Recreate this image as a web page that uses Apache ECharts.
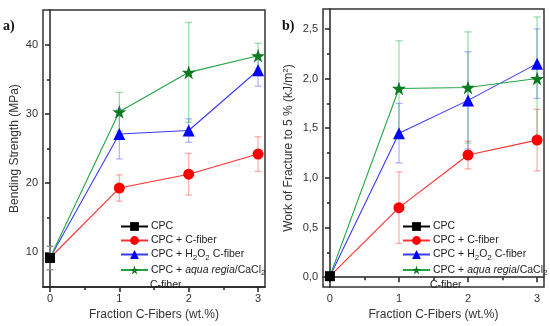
<!DOCTYPE html>
<html><head><meta charset="utf-8">
<script src="https://cdn.jsdelivr.net/npm/echarts@6/dist/echarts.min.js"></script>
<style>html,body{margin:0;padding:0;background:#fff}#c{width:550px;height:326px}</style>
</head><body><div id="c"></div>
<script>
// ---- data ----
const xValues = [0, 1, 2, 3];
const xTickLabels = [0, 1, 2, 3];
const seriesNames = ['CPC', 'CPC + C-fiber', 'CPC + H2O2 C-fiber', 'CPC + aqua regia/CaCl2 C-fiber'];

// Panel a: Bending Strength (MPa)
const aCPC = [9.2];
const aCPCErr = [1.7];
const aCF = [9.2, 19.3, 21.3, 24.2];
const aCFErr = [null, 1.9, 3.0, 2.5];
const aH2O2 = [9.2, 27.1, 27.6, 36.3];
const aH2O2Err = [null, 3.6, 1.7, 2.3];
const aAR = [9.2, 30.3, 36.0, 38.4];
const aARErr = [null, 2.8, 7.2, 1.8];
const aYTicks = [10, 20, 30, 40];
const aYMinor = [15, 25, 35];

// Panel b: Work of Fracture to 5 % (kJ/m²)
const bCPC = [0.01];
const bCPCErr = [null];
const bCF = [0.01, 0.70, 1.23, 1.38];
const bCFErr = [null, 0.36, 0.14, 0.31];
const bH2O2 = [0.01, 1.45, 1.78, 2.15];
const bH2O2Err = [null, 0.30, 0.49, 0.35];
const bAR = [0.01, 1.90, 1.91, 2.00];
const bARErr = [null, 0.48, 0.56, 0.62];
const bYTicks = [0, 0.5, 1.0, 1.5, 2.0, 2.5];
const bYMinor = [0.25, 0.75, 1.25, 1.75, 2.25];
const xMinor = [0.5, 1.5, 2.5];

// ---- styles ----
const FONT = 'Liberation Sans, Arial, sans-serif';
const STAR = 'path://M50,0 L61.8,35.1 L98.1,35.1 L68.7,56.7 L79.4,90.9 L50,69.1 L20.6,90.9 L31.3,56.7 L1.9,35.1 L38.2,35.1 Z';
const styles = [
  {line: '#000000', mark: '#000000', sym: 'rect', size: 10, err: '#8a8a8a'},
  {line: '#ff3030', mark: '#ff0000', sym: 'circle', size: 11, err: 'rgba(255,80,80,0.45)'},
  {line: '#3a3aff', mark: '#0000ff', sym: 'triangle', size: 12, err: 'rgba(90,90,255,0.45)'},
  {line: '#22a544', mark: '#0b7a20', sym: STAR, size: 14, err: 'rgba(40,180,80,0.45)'}
];

const chart = echarts.init(document.getElementById('c'), null, {renderer: 'canvas'});

function lineSeries(idx, vals, axisIdx) {
  const s = styles[idx];
  return {
    type: 'line', name: seriesNames[idx],
    xAxisIndex: axisIdx, yAxisIndex: axisIdx,
    data: vals.map((v, i) => (idx > 0 && i === 0) ? {value: [xValues[i], v], symbol: 'none'} : [xValues[i], v]),
    symbol: s.sym, symbolSize: s.size, showSymbol: true,
    lineStyle: {color: s.line, width: 1.1},
    itemStyle: {color: s.mark},
    z: 5, animation: false
  };
}
function errSeries(idx, vals, errs, axisIdx) {
  const data = [];
  vals.forEach((v, i) => { if (errs[i] != null) data.push([xValues[i], v - errs[i], v + errs[i]]); });
  const col = styles[idx].err;
  return {
    type: 'custom', name: 'err-' + axisIdx + '-' + idx, xAxisIndex: axisIdx, yAxisIndex: axisIdx,
    data: data, z: 3, animation: false, silent: true,
    renderItem: function (params, api) {
      const x = api.value(0);
      const p1 = api.coord([x, api.value(1)]);
      const p2 = api.coord([x, api.value(2)]);
      const w = 3.5;
      const st = {stroke: col, lineWidth: 1.3};
      return {type: 'group', children: [
        {type: 'line', shape: {x1: p1[0], y1: p1[1], x2: p2[0], y2: p2[1]}, style: st},
        {type: 'line', shape: {x1: p1[0] - w, y1: p1[1], x2: p1[0] + w, y2: p1[1]}, style: st},
        {type: 'line', shape: {x1: p2[0] - w, y1: p2[1], x2: p2[0] + w, y2: p2[1]}, style: st}
      ]};
    }
  };
}

const axisLineStyle = {color: '#222', width: 1.5};
const labelStyle = {fontFamily: FONT, fontSize: 11, color: '#333'};

function xMain(grid) {
  return {type: 'value', gridIndex: grid, min: -0.1, max: 3.1, position: 'bottom',
    axisLine: {show: true, lineStyle: axisLineStyle},
    axisTick: {show: true, customValues: xTickLabels, length: 5, lineStyle: axisLineStyle},
    axisLabel: Object.assign({customValues: xTickLabels, margin: 6}, labelStyle),
    splitLine: {show: false},
    name: 'Fraction C-Fibers (wt.%)', nameLocation: 'middle', nameGap: 19,
    nameTextStyle: {fontFamily: FONT, fontSize: 12, color: '#333'}};
}
function xMinorAx(grid) {
  return {type: 'value', gridIndex: grid, min: -0.1, max: 3.1, position: 'bottom', offset: 0,
    axisLine: {show: false},
    axisTick: {show: true, customValues: xMinor, length: 3, lineStyle: axisLineStyle},
    axisLabel: {show: false}, splitLine: {show: false}};
}
function yMain(grid, min, max, ticks, name, gap, fmt) {
  return {type: 'value', gridIndex: grid, min: min, max: max, position: 'left',
    axisLine: {show: true, lineStyle: axisLineStyle},
    axisTick: {show: true, customValues: ticks, length: 5, lineStyle: axisLineStyle},
    axisLabel: Object.assign({customValues: ticks, margin: 5, formatter: fmt}, labelStyle),
    splitLine: {show: false},
    name: name, nameLocation: 'middle', nameGap: gap,
    nameTextStyle: {fontFamily: FONT, fontSize: 12, color: '#333', rich: {sup: {fontSize: 8, fontFamily: FONT, color: '#333', padding: [0, 0, 6, 0]}}}};
}
function yMinorAx(grid, min, max, ticks) {
  return {type: 'value', gridIndex: grid, min: min, max: max, position: 'left', offset: 0,
    axisLine: {show: false},
    axisTick: {show: true, customValues: ticks, length: 3, lineStyle: axisLineStyle},
    axisLabel: {show: false}, splitLine: {show: false}};
}

const legendRich = {
  sub: {fontFamily: FONT, fontSize: 8, color: '#222', padding: [6, 0, 0, 0]},
  it: {fontFamily: FONT, fontSize: 10.5, color: '#222', fontStyle: 'italic'},
  n: {fontFamily: FONT, fontSize: 10.5, color: '#222'}
};
function legendFmt(name) {
  if (name === seriesNames[2]) return '{n|CPC + H}{sub|2}{n|O}{sub|2}{n| C-fiber}';
  if (name === seriesNames[3]) return '{n|CPC + }{it|aqua regia}{n|/CaCl}{sub|2}';
  return '{n|' + name + '}';
}
function legend(left) {
  return {orient: 'vertical', left: left, top: 216, itemWidth: 27, itemHeight: 11, itemGap: 3,
    data: seriesNames, formatter: legendFmt, selectedMode: false,
    textStyle: {fontFamily: FONT, fontSize: 10.5, color: '#222', rich: legendRich, padding: [0, 0, 0, -2]}};
}

const option = {
  backgroundColor: '#fff',
  animation: false,
  grid: [
    {left: 43, top: 10, width: 222, height: 282, show: true, borderColor: '#333', borderWidth: 1.5, backgroundColor: 'transparent'},
    {left: 323, top: 9, width: 221, height: 283, show: true, borderColor: '#333', borderWidth: 1.5, backgroundColor: 'transparent'}
  ],
  xAxis: [xMain(0), xMain(1), xMinorAx(0), xMinorAx(1)],
  yAxis: [
    yMain(0, 5, 45, aYTicks, 'Bending Strength (MPa)', 22, v => String(v)),
    yMain(1, -0.1, 2.7, bYTicks, 'Work of Fracture to 5 % (kJ/m{sup|2})', 27, v => v.toFixed(1).replace('.', ',')),
    yMinorAx(0, 5, 45, aYMinor),
    yMinorAx(1, -0.1, 2.7, bYMinor)
  ],
  legend: [legend(115), legend(397)],
  graphic: [
    {type: 'text', left: 3, top: 19, style: {text: 'a)', font: 'bold 14px "Liberation Serif", "Times New Roman", serif', fill: '#111'}},
    {type: 'text', left: 282, top: 19, style: {text: 'b)', font: 'bold 14px "Liberation Serif", "Times New Roman", serif', fill: '#111'}},
    {type: 'text', left: 150, top: 280, style: {text: 'C-fiber', font: '10.5px ' + FONT, fill: '#222'}},
    {type: 'text', left: 430, top: 280, style: {text: 'C-fiber', font: '10.5px ' + FONT, fill: '#222'}}
  ],
  series: [
    errSeries(0, aCPC, aCPCErr, 0),
    errSeries(1, aCF, aCFErr, 0),
    errSeries(2, aH2O2, aH2O2Err, 0),
    errSeries(3, aAR, aARErr, 0),
    lineSeries(1, aCF, 0),
    lineSeries(2, aH2O2, 0),
    lineSeries(3, aAR, 0),
    lineSeries(0, aCPC, 0),
    errSeries(0, bCPC, bCPCErr, 1),
    errSeries(1, bCF, bCFErr, 1),
    errSeries(2, bH2O2, bH2O2Err, 1),
    errSeries(3, bAR, bARErr, 1),
    lineSeries(1, bCF, 1),
    lineSeries(2, bH2O2, 1),
    lineSeries(3, bAR, 1),
    lineSeries(0, bCPC, 1)
  ]
};
chart.setOption(option);
</script></body></html>
